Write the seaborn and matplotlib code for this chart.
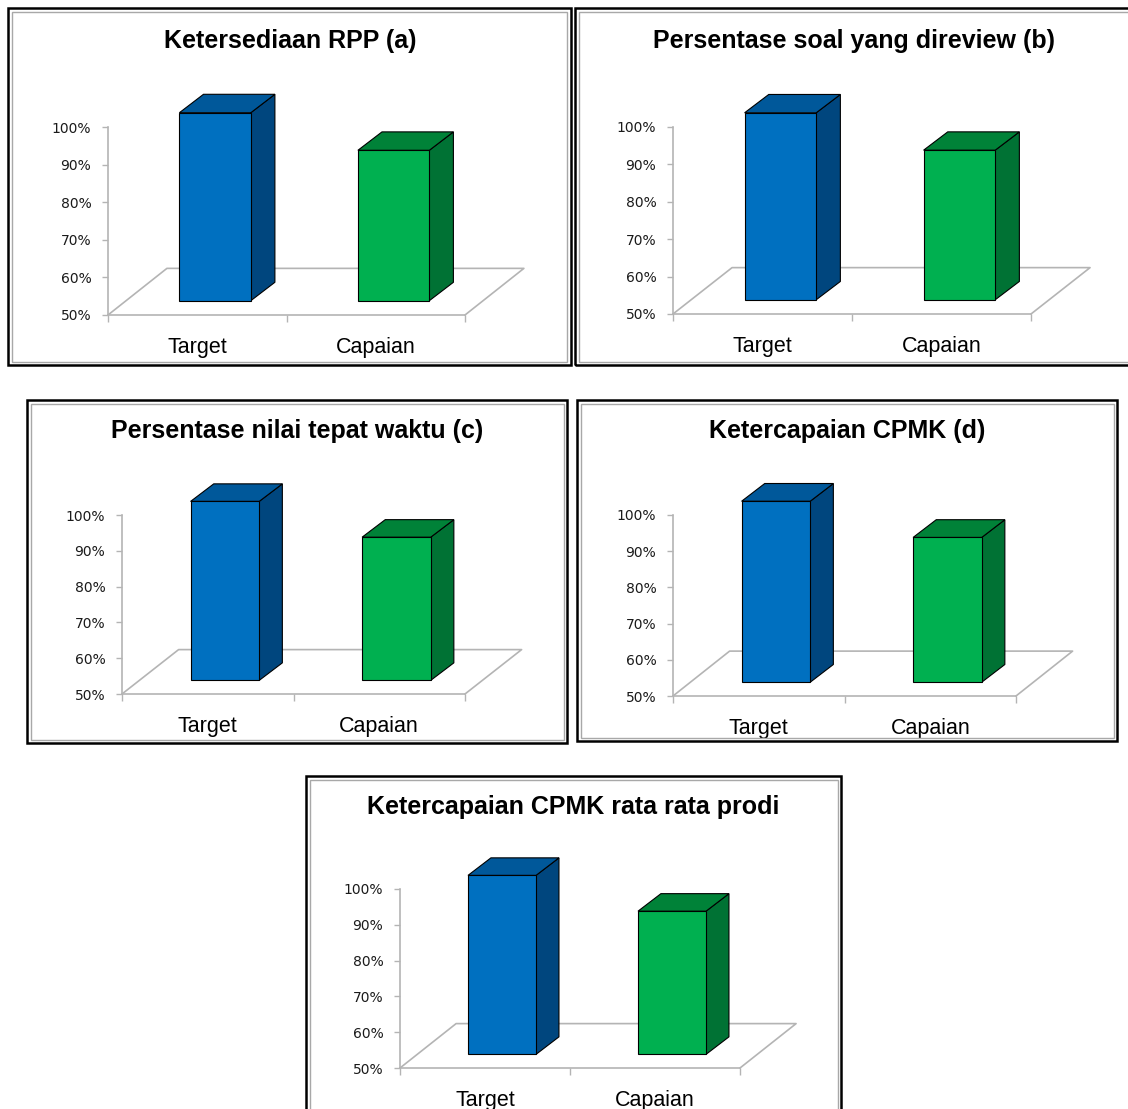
import matplotlib
matplotlib.use("Agg")
import matplotlib.pyplot as plt
from matplotlib.patches import Rectangle, Polygon
from matplotlib.ticker import FixedLocator, PercentFormatter
import seaborn as sns
import pandas as pd

# ---- data ----
titles = [
    "Ketersediaan RPP (a)",
    "Persentase soal yang direview (b)",
    "Persentase nilai tepat waktu (c)",
    "Ketercapaian CPMK (d)",
    "Ketercapaian CPMK rata rata prodi",
]
categories = ["Target", "Capaian"]
target_values = [100, 100, 100, 100, 100]
capaian_values = [90, 90, 90, 90, 90]
y_ticks = [50, 60, 70, 80, 90, 100]

# ---- style ----
sns.set_theme(style="white")
plt.rcParams["font.family"] = ["Liberation Sans", "DejaVu Sans"]

FRONT = {"Target": "#0070C0", "Capaian": "#00B050"}
SIDE = {"Target": "#00467E", "Capaian": "#007234"}
TOP = {"Target": "#00589A", "Capaian": "#008238"}
GRID_GREY = "#B4B4B4"
FLOOR = 50
# pseudo-3D depth offsets (x in category units, y in percent)
FLOOR_DEPTH = (0.33, 12.4)
BAR_FRONT = (0.10, 3.8)
BAR_BACK = (0.235, 8.7)

W, H = 1128, 1109
fig = plt.figure(figsize=(W / 100, H / 100), dpi=100)
fig.patch.set_facecolor("white")

# layout of each panel in pixels: frame box, axis origin/ends, title centre
panels = [
    dict(frame=(8, 8, 571, 365), x0=108, x1=465, y50=315, y100=127, title=(290, 41)),
    dict(frame=(575, 8, 1145, 365), x0=673, x1=1031, y50=314, y100=127, title=(854, 41)),
    dict(frame=(27, 400, 567, 743), x0=122, x1=465, y50=694, y100=515, title=(297, 431)),
    dict(frame=(577, 400, 1117, 741), x0=673, x1=1016, y50=696, y100=515, title=(847, 431)),
    dict(frame=(306, 776, 841, 1125), x0=400, x1=740, y50=1068, y100=889, title=(573, 807)),
]


def fx(px):
    return px / W


def fy(py):
    return 1 - py / H


def draw_frame(box):
    x0, y0, x1, y1 = box
    fig.patches.append(Rectangle((fx(x0), fy(y1)), fx(x1 - x0), (y1 - y0) / H,
                                 transform=fig.transFigure, fill=False,
                                 edgecolor="black", linewidth=1.8, zorder=0))
    ins = 3.5
    fig.patches.append(Rectangle((fx(x0 + ins), fy(y1 - ins)), fx(x1 - x0 - 2 * ins),
                                 (y1 - y0 - 2 * ins) / H,
                                 transform=fig.transFigure, fill=False,
                                 edgecolor="#A8A8A8", linewidth=1.0, zorder=0))


XMAX, YMAX = 1.9, 112

for p, title, tv, cv in zip(panels, titles, target_values, capaian_values):
    draw_frame(p["frame"])
    ux = (p["x1"] - p["x0"]) / 2.0
    uy = (p["y50"] - p["y100"]) / 50.0
    left = p["x0"]
    right = p["x0"] + (XMAX + 0.5) * ux
    top = p["y50"] - (YMAX - FLOOR) * uy
    ax = fig.add_axes([fx(left), fy(p["y50"]), fx(right - left), (p["y50"] - top) / H])
    ax.set_facecolor("none")

    df = pd.DataFrame({"kategori": categories, "nilai": [tv, cv]})
    sns.barplot(data=df, x="kategori", y="nilai", hue="kategori",
                palette=FRONT, width=0.4, saturation=1, legend=False,
                edgecolor="black", linewidth=0.8, ax=ax)

    bars = list(ax.patches)
    for bar, cat in zip(bars, categories):
        x, w, val = bar.get_x(), bar.get_width(), bar.get_height()
        fdx, fdy = BAR_FRONT
        bdx, bdy = BAR_BACK
        bar.set_xy((x + fdx, FLOOR + fdy))
        bar.set_height(val - FLOOR)
        bar.set_zorder(4)
        side = Polygon([(x + w + fdx, FLOOR + fdy), (x + w + bdx, FLOOR + bdy),
                        (x + w + bdx, val + bdy), (x + w + fdx, val + fdy)],
                       closed=True, facecolor=SIDE[cat], edgecolor="black",
                       linewidth=0.8, zorder=3)
        topf = Polygon([(x + fdx, val + fdy), (x + w + fdx, val + fdy),
                        (x + w + bdx, val + bdy), (x + bdx, val + bdy)],
                       closed=True, facecolor=TOP[cat], edgecolor="black",
                       linewidth=0.8, zorder=3)
        ax.add_patch(side)
        ax.add_patch(topf)

    # floor of the 3D plot area
    ddx, ddy = FLOOR_DEPTH
    ax.plot([-0.5, -0.5 + ddx, 1.5 + ddx, 1.5],
            [FLOOR, FLOOR + ddy, FLOOR + ddy, FLOOR],
            color=GRID_GREY, linewidth=1.2, zorder=1, clip_on=False)

    ax.set_xlim(-0.5, XMAX)
    ax.set_ylim(FLOOR, YMAX)
    ax.set_xlabel("")
    ax.set_ylabel("")

    for s in ["top", "right"]:
        ax.spines[s].set_visible(False)
    ax.spines["left"].set_bounds(FLOOR, 100)
    ax.spines["bottom"].set_bounds(-0.5, 1.5)
    for s in ["left", "bottom"]:
        ax.spines[s].set_color(GRID_GREY)
        ax.spines[s].set_linewidth(1.2)
        ax.spines[s].set_zorder(2)

    ax.set_yticks(y_ticks)
    ax.yaxis.set_major_formatter(PercentFormatter(decimals=0))
    ax.tick_params(axis="y", which="major", direction="out", length=4, width=1.0,
                   color=GRID_GREY, left=True, pad=8, labelsize=10,
                   labelcolor="#1a1a1a")
    for lab in ax.get_yticklabels():
        lab.set_fontfamily("DejaVu Sans")

    ax.set_xticks([0, 1])
    ax.set_xticklabels(categories)
    ax.xaxis.set_minor_locator(FixedLocator([-0.5, 0.5, 1.5]))
    ax.tick_params(axis="x", which="major", length=0, pad=16, labelsize=15.5,
                   labelcolor="black")
    ax.tick_params(axis="x", which="minor", direction="out", length=5, width=1.0,
                   color=GRID_GREY, bottom=True)

    fig.text(fx(p["title"][0]), fy(p["title"][1]), title, ha="center", va="center",
             fontsize=18, fontweight="bold", color="black")

fig.savefig("out.png", dpi=100, facecolor="white")
